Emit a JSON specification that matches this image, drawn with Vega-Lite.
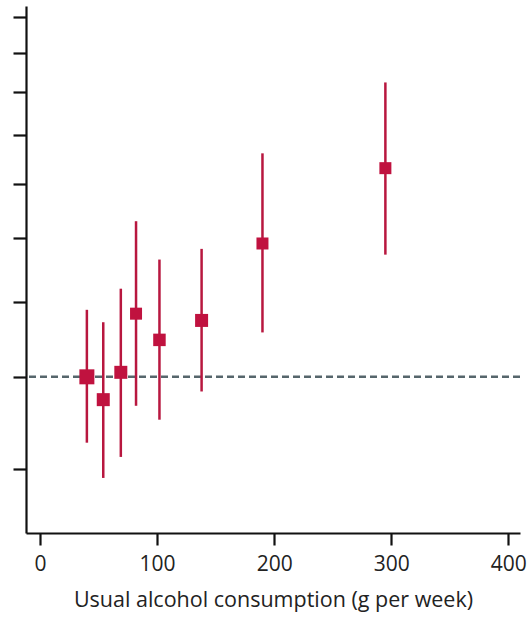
{
  "$schema": "https://vega.github.io/schema/vega-lite/v6.json",
  "autosize": {"type": "none"},
  "width": 494,
  "height": 527,
  "padding": {"left": 26, "top": 6, "right": 8, "bottom": 84},
  "background": "white",
  "config": {
    "view": {"stroke": null},
    "axis": {"grid": false, "domainColor": "#111", "tickColor": "#111", "domainWidth": 2.2, "tickWidth": 2.2, "labelFont": "Open Sans", "titleFont": "Open Sans", "labelColor": "#222", "titleColor": "#222"}
  },
  "data": {
    "values": [
      {"alc": 40, "hr": 1.0, "lo": 0.852, "hi": 1.177, "sz": 225},
      {"alc": 54, "hr": 0.946, "lo": 0.782, "hi": 1.142, "sz": 169},
      {"alc": 69, "hr": 1.011, "lo": 0.823, "hi": 1.239, "sz": 169},
      {"alc": 82, "hr": 1.166, "lo": 0.932, "hi": 1.46, "sz": 144},
      {"alc": 102, "hr": 1.094, "lo": 0.901, "hi": 1.33, "sz": 156},
      {"alc": 138, "hr": 1.147, "lo": 0.965, "hi": 1.365, "sz": 169},
      {"alc": 190, "hr": 1.383, "lo": 1.114, "hi": 1.722, "sz": 144},
      {"alc": 295, "hr": 1.661, "lo": 1.346, "hi": 2.046, "sz": 144}
    ]
  },
  "layer": [
    {
      "data": {"values": [{"ref": 1}]},
      "mark": {"type": "rule", "color": "#56666c", "strokeWidth": 2.4, "strokeDash": [7, 4]},
      "encoding": {"y": {"field": "ref", "type": "quantitative", "scale": {"type": "log", "domain": [0.684, 2.464], "nice": false}}}
    },
    {
      "mark": {"type": "rule", "color": "#b8173f", "strokeWidth": 2.5},
      "encoding": {
        "x": {"field": "alc", "type": "quantitative", "scale": {"domain": [-12, 410], "nice": false},
          "axis": {"values": [0, 100, 200, 300, 400], "tickSize": 12, "labelFontSize": 21, "labelPadding": 8, "title": "Usual alcohol consumption (g per week)", "titleFontSize": 21.5, "titleFontWeight": "normal", "titlePadding": 15}},
        "y": {"field": "lo", "type": "quantitative", "scale": {"type": "log", "domain": [0.684, 2.464], "nice": false},
          "axis": {"values": [0.8, 1, 1.2, 1.4, 1.6, 1.8, 2, 2.2, 2.4], "labels": false, "tickSize": 13, "title": null}},
        "y2": {"field": "hi"}
      }
    },
    {
      "mark": {"type": "square", "color": "#c0123f", "opacity": 1, "filled": true},
      "encoding": {
        "x": {"field": "alc", "type": "quantitative"},
        "y": {"field": "hr", "type": "quantitative"},
        "size": {"field": "sz", "type": "quantitative", "scale": null, "legend": null}
      }
    }
  ]
}
